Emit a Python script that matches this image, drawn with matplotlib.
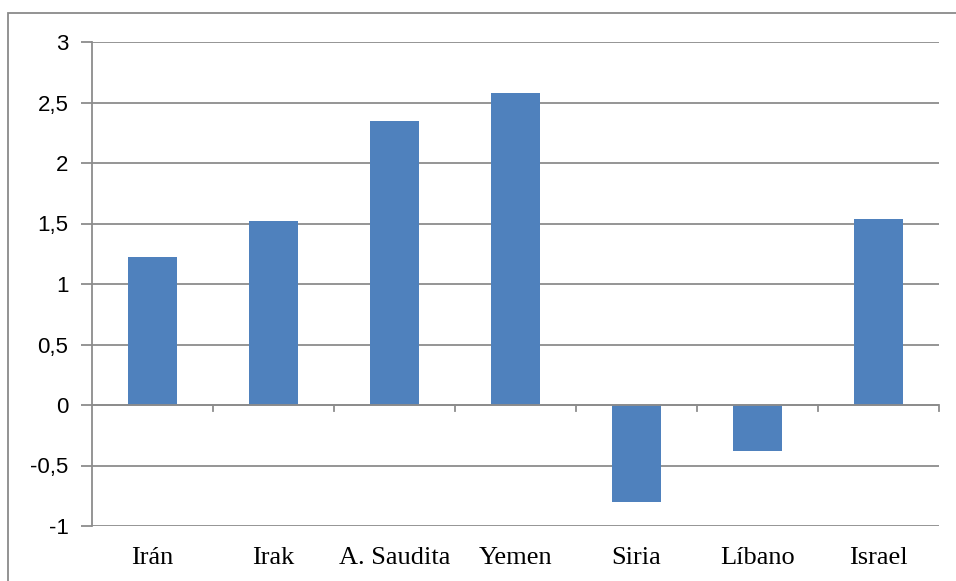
import matplotlib.pyplot as plt
from matplotlib.patches import Rectangle
from matplotlib.ticker import FuncFormatter, FixedLocator

countries = ["Irán", "Irak", "A. Saudita", "Yemen", "Siria", "Líbano", "Israel"]
values = [1.22, 1.52, 2.35, 2.58, -0.80, -0.38, 1.54]
y_ticks = [-1, -0.5, 0, 0.5, 1, 1.5, 2, 2.5, 3]

bar_color = "#4F81BD"
grid_color = "#8C8C8C"


def comma_fmt(v, pos):
  s = ("%g" % v).replace(".", ",")
  return s


def main():
  fig = plt.figure(figsize=(9.56, 5.81), dpi=100)
  W, H = 956, 581
  # outer chart border (cropped on right and bottom)
  fig.patches.append(Rectangle((8 / W, -0.1), 1.2, (H - 13) / H + 0.1,
                               transform=fig.transFigure, fill=False,
                               edgecolor="#8A8A8A", linewidth=1.3))

  ax = fig.add_axes([92 / W, (H - 526) / H, (939 - 92) / W, (526 - 42) / H])
  x = list(range(len(countries)))
  ax.bar(x, values, width=0.4, color=bar_color, zorder=3)

  ax.set_xlim(-0.5, len(countries) - 0.5)
  ax.set_ylim(-1, 3)
  ax.yaxis.set_major_locator(FixedLocator(y_ticks))
  ax.yaxis.set_major_formatter(FuncFormatter(comma_fmt))
  ax.grid(axis="y", color=grid_color, linewidth=1.3, zorder=0)

  for side in ["top", "right", "bottom"]:
    ax.spines[side].set_visible(False)
  ax.spines["left"].set_color(grid_color)
  ax.spines["left"].set_linewidth(1.3)

  # category axis at zero
  ax.axhline(0, color=grid_color, linewidth=1.3, zorder=4)
  for b in range(1, len(countries) + 1):
    ax.plot([b - 0.5, b - 0.5], [0, -0.05], color=grid_color, linewidth=1.3,
            zorder=4, clip_on=False)

  ax.tick_params(axis="y", length=8, width=1.3, color=grid_color, pad=9,
                 labelsize=16)
  for lab in ax.get_yticklabels():
    lab.set_fontfamily("Liberation Sans")
  ax.set_xticks(x)
  ax.set_xticklabels(countries)
  ax.tick_params(axis="x", length=0, pad=15)
  for lab in ax.get_xticklabels():
    lab.set_fontfamily("Liberation Serif")
    lab.set_fontsize(19)

  fig.savefig("out.png", dpi=100)


if __name__ == "__main__":
  main()
